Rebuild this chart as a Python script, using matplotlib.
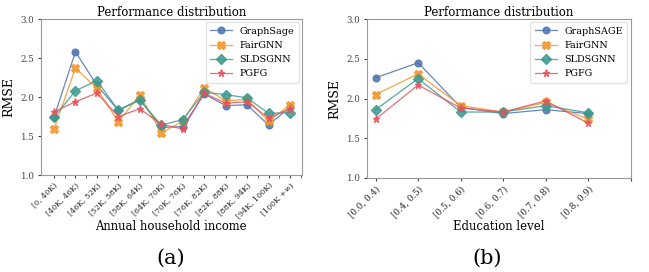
import numpy as np
import matplotlib
matplotlib.use("Agg")
import matplotlib.pyplot as plt

plt.rcParams['font.family'] = ['DejaVu Serif']

# ---------------- data ----------------
income_bins = ['[0, 40K)', '[40K, 46K)', '[46K, 52K)', '[52K, 58K)', '[58K, 64K)', '[64K, 70K)',
               '[70K, 76K)', '[76K, 82K)', '[82K, 88K)', '[88K, 94K)', '[94K, 100K)', '[100K +∞)']
inc_graphsage = [1.74, 2.58, 2.15, 1.83, 1.97, 1.61, 1.62, 2.04, 1.89, 1.90, 1.64, 1.87]
inc_fairgnn = [1.59, 2.37, 2.11, 1.68, 2.03, 1.54, 1.69, 2.12, 1.95, 1.97, 1.69, 1.90]
inc_sldsgnn = [1.74, 2.08, 2.21, 1.83, 1.96, 1.64, 1.71, 2.06, 2.03, 1.99, 1.79, 1.80]
inc_pgfg = [1.81, 1.94, 2.05, 1.75, 1.85, 1.65, 1.59, 2.05, 1.92, 1.94, 1.73, 1.85]

edu_bins = ['[0.0, 0.4)', '[0.4, 0.5)', '[0.5, 0.6)', '[0.6, 0.7)', '[0.7, 0.8)', '[0.8, 0.9)']
edu_graphsage = [2.26, 2.45, 1.89, 1.81, 1.86, 1.81]
edu_fairgnn = [2.05, 2.31, 1.91, 1.83, 1.95, 1.74]
edu_sldsgnn = [1.86, 2.25, 1.83, 1.83, 1.91, 1.82]
edu_pgfg = [1.74, 2.17, 1.88, 1.83, 1.97, 1.69]

COLORS = ['#4C72B0', '#F5962A', '#3C9A8F', '#E5535F']
MARKERS = ['o', 'X', 'D', '*']
MSIZES = [4.8, 5.2, 4.6, 5.2]


def draw_panel(ax, labels, series, names, xlabel, xlim, n_ticks, tick_fs, label_y):
    x = np.arange(len(labels))
    for ys, name, c, m, ms in zip(series, names, COLORS, MARKERS, MSIZES):
        ax.plot(x, ys, color=c, marker=m, markersize=ms, linewidth=0.9,
                alpha=0.85, label=name)
    ax.set_ylim(1.0, 3.0)
    ax.set_yticks([1.0, 1.5, 2.0, 2.5, 3.0])
    ax.set_xlim(*xlim)
    ax.set_xticks(np.arange(n_ticks))
    ax.set_xticklabels(list(labels) + [''] * (n_ticks - len(labels)),
                       rotation=45, ha='right', rotation_mode='anchor', fontsize=tick_fs)
    ax.tick_params(axis='y', labelsize=6.2, colors='#444444', length=2.5, pad=2)
    ax.tick_params(axis='x', colors='#444444', length=2.5, pad=2)
    for lab in ax.get_xticklabels():
        lab.set_color('#222222')
    for sp in ax.spines.values():
        sp.set_color('#999999')
    ax.set_title('Performance distribution', fontsize=8.5, pad=2)
    ax.set_ylabel('RMSE', fontsize=9, labelpad=4)
    ax.set_xlabel(xlabel, fontsize=8.4)
    ax.xaxis.set_label_coords(0.5, label_y)
    leg = ax.legend(loc='upper right', fontsize=6.9, frameon=True, fancybox=True,
                    borderaxespad=0.35, handlelength=2.3, labelspacing=0.55,
                    borderpad=0.45)
    leg.get_frame().set_edgecolor('#dddddd')


fig = plt.figure(figsize=(6.49, 2.72), dpi=100)

ax1 = fig.add_axes([0.0627, 0.3566, 0.4026, 0.5735])
draw_panel(ax1, income_bins, [inc_graphsage, inc_fairgnn, inc_sldsgnn, inc_pgfg],
           ['GraphSage', 'FairGNN', 'SLDSGNN', 'PGFG'],
           'Annual household income', (-0.62, 11.56), 12, 5.7, -0.29)
ax1.set_xticks(np.arange(12) + 0.5, minor=True)
ax1.tick_params(axis='x', which='minor', length=2.5, colors='#444444')

ax2 = fig.add_axes([0.565, 0.3456, 0.4068, 0.5845])
draw_panel(ax2, edu_bins, [edu_graphsage, edu_fairgnn, edu_sldsgnn, edu_pgfg],
           ['GraphSAGE', 'FairGNN', 'SLDSGNN', 'PGFG'],
           'Education level', (-0.21, 6.0), 7, 6.2, -0.265)

fig.text(0.2635, 0.052, '(a)', ha='center', va='center', fontsize=15)
fig.text(0.751, 0.052, '(b)', ha='center', va='center', fontsize=15)

fig.savefig('out.png', dpi=100)
